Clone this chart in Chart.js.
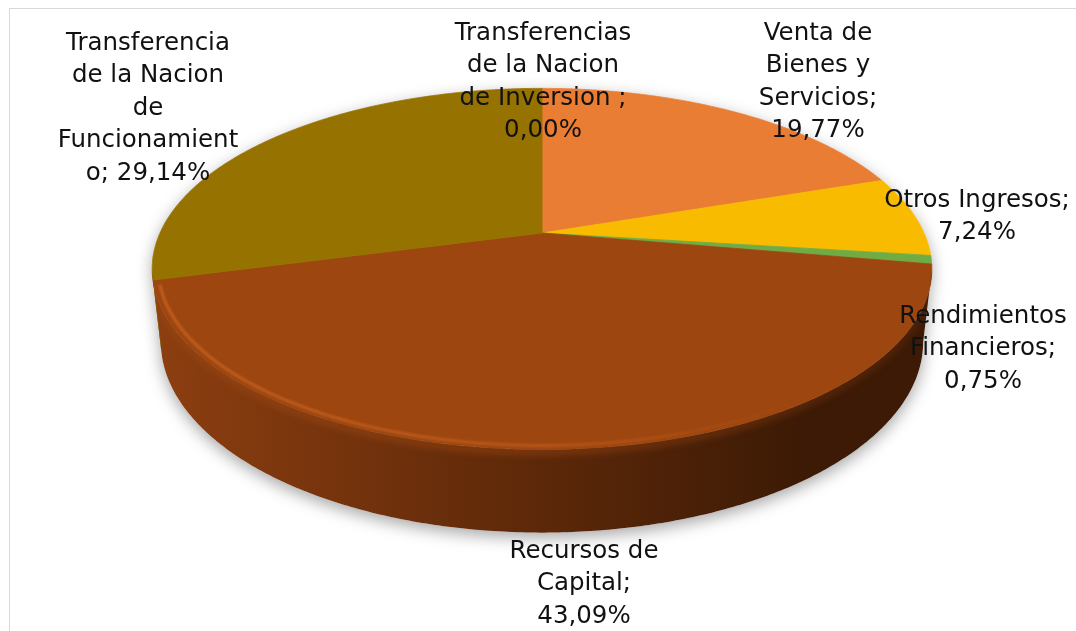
<!DOCTYPE html>
<html>
<head>
<meta charset="utf-8">
<script src="https://cdn.jsdelivr.net/npm/chart.js@4.4.1/dist/chart.umd.min.js"></script>
<style>
html, body { margin: 0; padding: 0; background: #fff; overflow: hidden; }
#frame { position: absolute; left: 9px; top: 8px; width: 1200px; height: 800px;
         border-top: 1.5px solid #d9d9d9; border-left: 1.5px solid #d9d9d9; }
#chart { position: absolute; left: 0; top: 0; }
</style>
</head>
<body>
<div id="frame"></div>
<canvas id="chart" width="1076" height="631"></canvas>
<script>
// Datos del gráfico (porcentaje de cada fuente de ingreso)
const categories = [
    "Transferencias de la Nacion de Inversion ",
    "Venta de Bienes y Servicios",
    "Otros Ingresos",
    "Rendimientos Financieros",
    "Recursos de Capital",
    "Transferencia de la Nacion de Funcionamiento"
];
const shares = [0.00, 19.77, 7.24, 0.75, 43.09, 29.14];

// Líneas de las etiquetas como las corta Excel ({v} = porcentaje)
const labelLines = [
    ["Transferencias", "de la Nacion", "de Inversion ;", "{v}"],
    ["Venta de", "Bienes y", "Servicios;", "{v}"],
    ["Otros Ingresos;", "{v}"],
    ["Rendimientos", "Financieros;", "{v}"],
    ["Recursos de", "Capital;", "{v}"],
    ["Transferencia", "de la Nacion", "de", "Funcionamient", "o; {v}"]
];

// Colores: cara superior y lateral (claro -> oscuro)
const topColors = ["#4472c4", "#e97d33", "#f8bb00", "#6fac46", "#9d460f", "#967200"];
const sideColors = [
    ["#2f4f8a", "#1c2f52"],
    ["#a85620", "#5a2c0c"],
    ["#b08400", "#5e4600"],
    ["#4f7a31", "#2a421a"],
    ["#8c3e10", "#3c1a05"],
    ["#806100", "#3f3000"]
];

// Posición de la primera línea base de cada etiqueta (x centro, y)
const labelPos = [[543, 40], [818, 40], [977, 207], [983, 323], [584, 558], [148, 50]];
const lineHeight = 32.4;

// Geometría de la vista 3D
const CX = 542, CY = 233, R = 382, DEPTH = 82, FOCAL = 1709;
const TILT = 27 * Math.PI / 180;
const sinA = Math.sin(TILT), cosA = Math.cos(TILT);

function formatPct(v) {
    return v.toFixed(2).replace('.', ',') + '%';
}

// Proyección en perspectiva de un punto del disco
function project(theta, r, z) {
    const X = r * Math.cos(theta), Y = r * Math.sin(theta);
    const yp = Y * sinA - z * cosA;
    const w = Y * cosA + z * sinA;
    const s = FOCAL / (FOCAL - w);
    return [CX + X * s, CY + yp * s];
}

function rimPoints(a0, a1, r, z) {
    const pts = [];
    const n = Math.max(2, Math.ceil(Math.abs(a1 - a0) / 0.01));
    for (let i = 0; i <= n; i++) {
        pts.push(project(a0 + (a1 - a0) * i / n, r, z));
    }
    return pts;
}

// Añade los puntos al trazo actual (move = empezar con moveTo)
function tracePath(ctx, pts, move) {
    pts.forEach((p, k) => {
        if (k === 0 && move) ctx.moveTo(p[0], p[1]);
        else ctx.lineTo(p[0], p[1]);
    });
}

function mix(c1, c2, t) {
    const a = parseInt(c1.slice(1), 16), b = parseInt(c2.slice(1), 16);
    const r = Math.round(((a >> 16) & 255) * (1 - t) + ((b >> 16) & 255) * t);
    const g = Math.round(((a >> 8) & 255) * (1 - t) + ((b >> 8) & 255) * t);
    const bl = Math.round((a & 255) * (1 - t) + (b & 255) * t);
    return `rgb(${r},${g},${bl})`;
}

const pie3d = {
    id: 'pie3d',
    beforeDatasetsDraw(chart) {
        const ctx = chart.ctx;
        const arcs = chart.getDatasetMeta(0).data;
        const b = R * cosA / FOCAL;
        const visLo = Math.asin(b), visHi = Math.PI - Math.asin(b);

        ctx.save();

        // Sombra bajo el pastel
        ctx.save();
        ctx.shadowColor = 'rgba(0,0,0,0.35)';
        ctx.shadowBlur = 16;
        ctx.shadowOffsetY = 5;
        ctx.fillStyle = '#fff';
        ctx.beginPath();
        tracePath(ctx, rimPoints(visLo, visHi, R, -DEPTH), true);
        tracePath(ctx, rimPoints(visHi, visLo + 2 * Math.PI, R, 0), false);
        ctx.closePath();
        ctx.fill();
        ctx.restore();

        // Paredes laterales visibles
        arcs.forEach((arc, i) => {
            const a0 = Math.max(arc.startAngle, visLo);
            const a1 = Math.min(arc.endAngle, visHi);
            if (a1 <= a0) return;
            const grad = ctx.createLinearGradient(CX - R, 0, CX + R, 0);
            grad.addColorStop(0, sideColors[i][0]);
            grad.addColorStop(0.5, mix(sideColors[i][0], sideColors[i][1], 0.6));
            grad.addColorStop(0.85, sideColors[i][1]);
            grad.addColorStop(1, sideColors[i][1]);
            ctx.fillStyle = grad;
            ctx.beginPath();
            tracePath(ctx, rimPoints(a0, a1, R, 0), true);
            tracePath(ctx, rimPoints(a1, a0, R, -DEPTH), false);
            ctx.closePath();
            ctx.fill();
        });

        // Caras superiores
        arcs.forEach((arc, i) => {
            if (arc.endAngle - arc.startAngle <= 0) return;
            ctx.fillStyle = topColors[i];
            ctx.strokeStyle = topColors[i];
            ctx.lineWidth = 0.8;
            ctx.beginPath();
            ctx.moveTo(CX, CY);
            tracePath(ctx, rimPoints(arc.startAngle, arc.endAngle, R, 0), false);
            ctx.closePath();
            ctx.fill();
            ctx.stroke();
        });

        // Bisel: transición suave entre cara superior y lateral
        ctx.save();
        ctx.beginPath();
        tracePath(ctx, rimPoints(visLo, visHi, R, 0), true);
        tracePath(ctx, rimPoints(visHi, visLo, R, -DEPTH), false);
        ctx.closePath();
        ctx.clip();
        ctx.filter = 'blur(3px)';
        const bev = ctx.createLinearGradient(CX - R, 0, CX + R, 0);
        bev.addColorStop(0, 'rgba(150,68,18,0.9)');
        bev.addColorStop(0.5, 'rgba(130,58,14,0.8)');
        bev.addColorStop(1, 'rgba(90,40,10,0.6)');
        ctx.strokeStyle = bev;
        ctx.lineWidth = 8;
        ctx.beginPath();
        tracePath(ctx, rimPoints(visLo, visHi, R, -2), true);
        ctx.stroke();
        ctx.restore();

        // Brillo del bisel en el borde frontal
        ctx.save();
        ctx.filter = 'blur(1.3px)';
        const hl = ctx.createLinearGradient(CX - R, 0, CX + R, 0);
        hl.addColorStop(0, 'rgba(205,100,35,0.8)');
        hl.addColorStop(0.5, 'rgba(200,98,35,0.6)');
        hl.addColorStop(0.85, 'rgba(200,98,35,0.0)');
        ctx.strokeStyle = hl;
        ctx.lineWidth = 3;
        ctx.beginPath();
        tracePath(ctx, rimPoints(visLo + 0.05, visHi - 0.09, R * 0.985, 0), true);
        ctx.stroke();
        ctx.restore();

        ctx.restore();
        return false;
    },
    afterDraw(chart) {
        const ctx = chart.ctx;
        ctx.save();
        ctx.fillStyle = '#111';
        ctx.font = '24.5px "DejaVu Sans"';
        ctx.textAlign = 'center';
        ctx.textBaseline = 'alphabetic';
        labelLines.forEach((lines, i) => {
            lines.forEach((line, k) => {
                const text = line.replace('{v}', formatPct(shares[i]));
                ctx.fillText(text, labelPos[i][0], labelPos[i][1] + k * lineHeight);
            });
        });
        ctx.restore();
    }
};

new Chart(document.getElementById('chart').getContext('2d'), {
    type: 'pie',
    data: {
        labels: categories,
        datasets: [{
            data: shares,
            backgroundColor: topColors,
            borderWidth: 0
        }]
    },
    options: {
        responsive: false,
        animation: false,
        devicePixelRatio: 1,
        plugins: {
            legend: { display: false },
            tooltip: { enabled: false }
        }
    },
    plugins: [pie3d]
});
</script>
</body>
</html>
